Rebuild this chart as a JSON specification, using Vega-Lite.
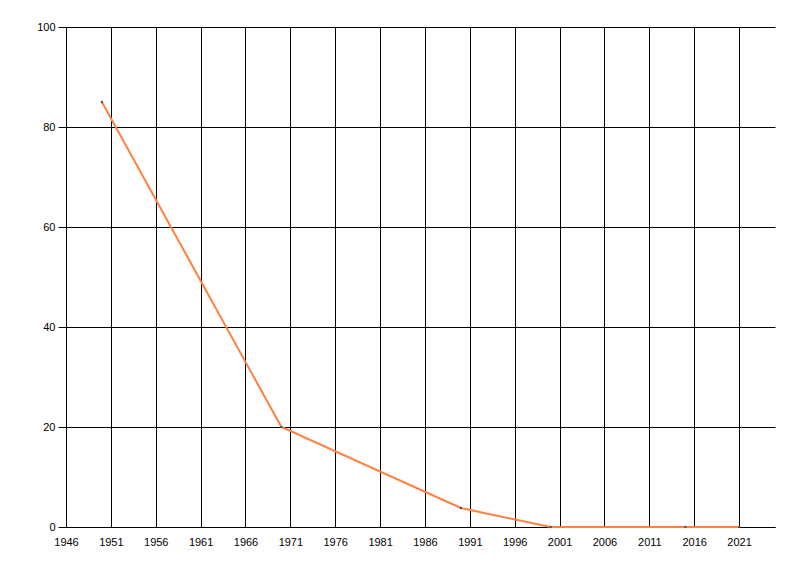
{
  "$schema": "https://vega.github.io/schema/vega-lite/v6.json",
  "width": 709,
  "height": 500,
  "autosize": {"type": "none"},
  "padding": {"left": 66, "top": 27, "right": 25, "bottom": 49},
  "background": "white",
  "config": {
    "view": {"stroke": null},
    "axis": {
      "labelFont": "Liberation Sans",
      "labelFontSize": 11,
      "labelColor": "#000000",
      "gridColor": "#000000",
      "gridOpacity": 1,
      "gridWidth": 1,
      "domainColor": "#000000",
      "domainWidth": 1,
      "tickColor": "#000000",
      "title": null
    }
  },
  "data": {
    "values": [
      {"year": 1950, "value": 85},
      {"year": 1970, "value": 20},
      {"year": 1990, "value": 3.8},
      {"year": 2000, "value": 0},
      {"year": 2015, "value": 0},
      {"year": 2021, "value": 0}
    ]
  },
  "layer": [
    {
      "mark": {"type": "line", "color": "#FF8040", "strokeWidth": 2, "clip": false},
      "encoding": {
        "x": {
          "field": "year",
          "type": "quantitative",
          "scale": {"domain": [1946, 2025], "nice": false, "zero": false},
          "axis": {
            "values": [1946, 1951, 1956, 1961, 1966, 1971, 1976, 1981, 1986, 1991, 1996, 2001, 2006, 2011, 2016, 2021],
            "format": "d",
            "grid": true,
            "ticks": false,
            "labelPadding": 9,
            "labelFlush": false,
            "labelOverlap": false
          }
        },
        "y": {
          "field": "value",
          "type": "quantitative",
          "scale": {"domain": [0, 100], "nice": false},
          "axis": {
            "values": [0, 20, 40, 60, 80, 100],
            "grid": true,
            "ticks": true,
            "tickSize": 8,
            "labelPadding": 3,
            "labelFlush": false,
            "labelOverlap": false
          }
        }
      }
    },
    {
      "mark": {"type": "point", "shape": "square", "filled": true, "size": 5, "color": "#555555", "opacity": 1},
      "encoding": {
        "x": {"field": "year", "type": "quantitative"},
        "y": {"field": "value", "type": "quantitative"}
      }
    }
  ]
}
